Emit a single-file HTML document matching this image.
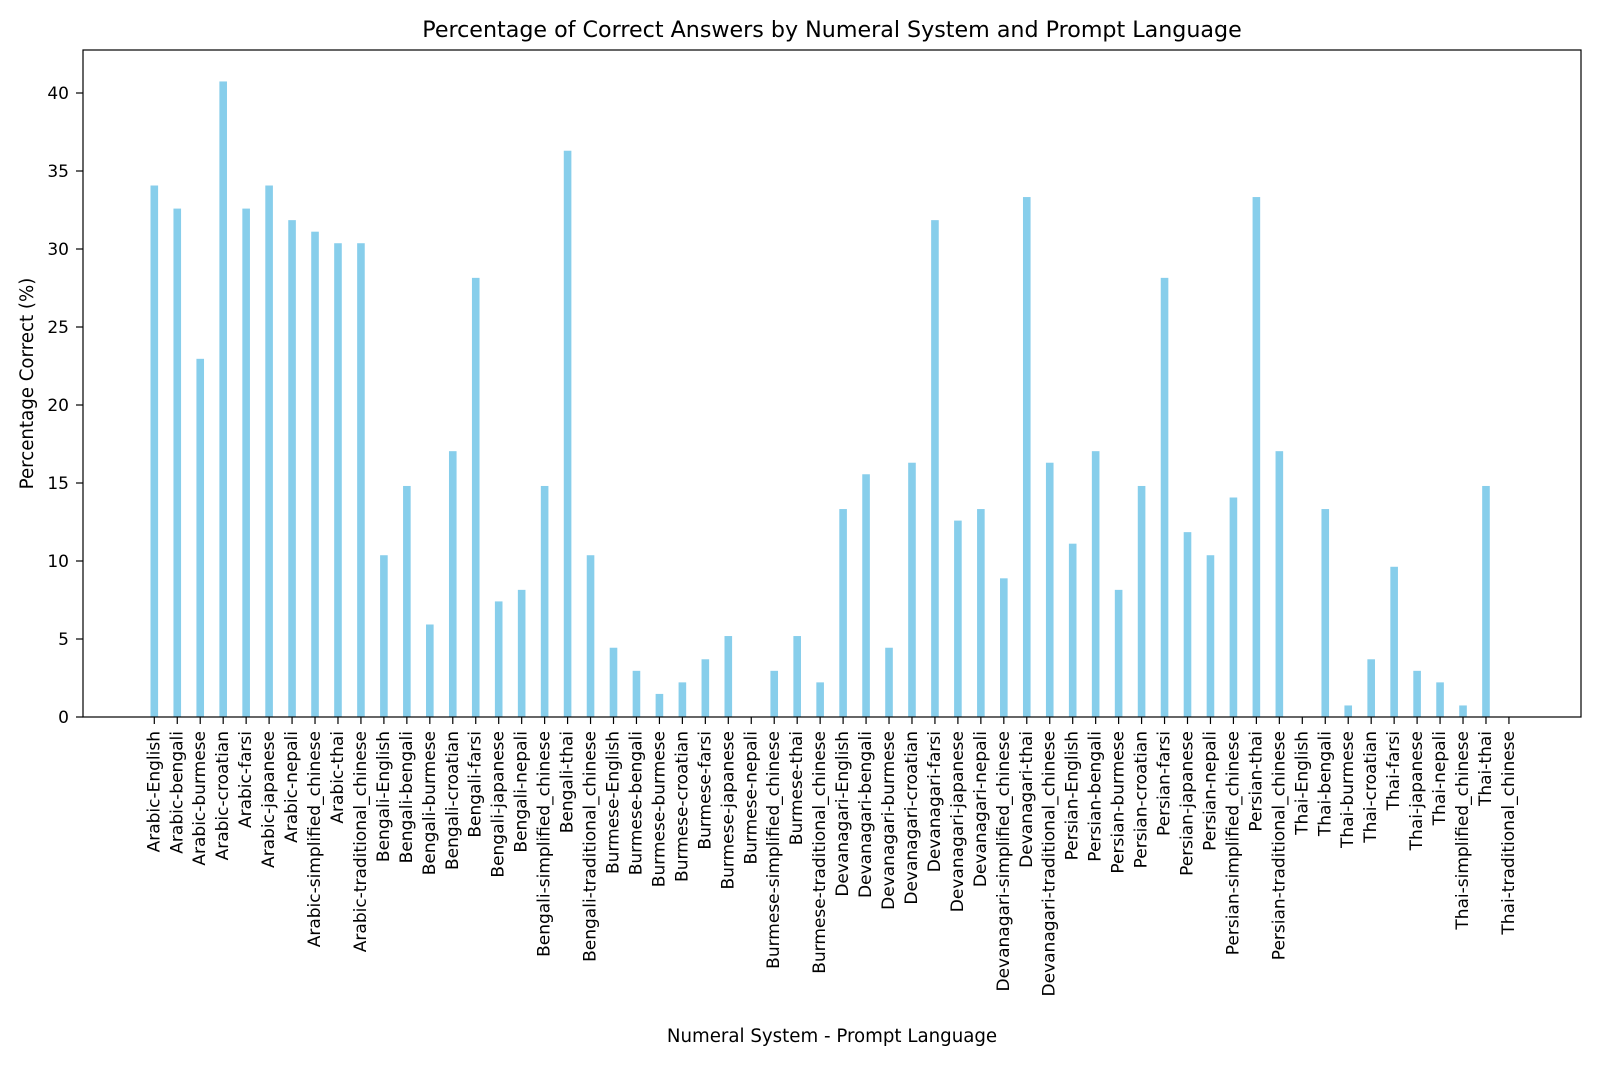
<!DOCTYPE html>
<html><head><meta charset="utf-8"><style>body{margin:0;background:#fff}svg{display:block;font-family:"DejaVu Sans","Liberation Sans",sans-serif}</style></head>
<body>
<svg id="chart" width="1600" height="1066"></svg>
<script>
const numerals=["Arabic","Bengali","Burmese","Devanagari","Persian","Thai"];
const langs=["English","bengali","burmese","croatian","farsi","japanese","nepali","simplified_chinese","thai","traditional_chinese"];
const arabicVals=[34.07,32.59,22.96,40.74,32.59,34.07,31.85,31.11,30.37,30.37];
const bengaliVals=[10.37,14.81,5.93,17.04,28.15,7.41,8.15,14.81,36.30,10.37];
const burmeseVals=[4.44,2.96,1.48,2.22,3.70,5.19,0,2.96,5.19,2.22];
const devanagariVals=[13.33,15.56,4.44,16.30,31.85,12.59,13.33,8.89,33.33,16.30];
const persianVals=[11.11,17.04,8.15,14.81,28.15,11.85,10.37,14.07,33.33,17.04];
const thaiVals=[0,13.33,0.74,3.70,9.63,2.96,2.22,0.74,14.81,0];
const yTicks=[0,5,10,15,20,25,30,35,40];

const allVals=[arabicVals,bengaliVals,burmeseVals,devanagariVals,persianVals,thaiVals];
const cats=[],vals=[];
numerals.forEach((n,i)=>langs.forEach((l,j)=>{cats.push(n+"-"+l);vals.push(allVals[i][j]);}));
const L=83,R=1581,T=50,B=717;
const x=i=>154.3+i*22.96;
const y=v=>B-v*15.6;
const svg=document.getElementById('chart');
const NS="http://www.w3.org/2000/svg";
function mk(tag,attrs,text){const e=document.createElementNS(NS,tag);for(const k in attrs)e.setAttribute(k,attrs[k]);if(text!==undefined)e.textContent=text;svg.appendChild(e);return e;}
vals.forEach((v,i)=>{
 const r=mk('rect',{x:x(i)-3.8,y:y(v),width:7.6,height:B-y(v),fill:'#87ceeb'});
 
 
 mk('line',{x1:x(i),x2:x(i),y1:B,y2:B+7,stroke:'#000','stroke-width':1.2});
 const t=mk('text',{x:0,y:0,'font-size':17,'text-anchor':'end','dominant-baseline':'central',transform:`translate(${x(i)},${B+14}) rotate(-90)`},cats[i]);
 
 
});
yTicks.forEach(v=>{
 mk('line',{x1:L-7,x2:L,y1:y(v),y2:y(v),stroke:'#000','stroke-width':1.2});
 const t=mk('text',{x:L-14,y:y(v)+6,'font-size':17,'text-anchor':'end'},v);
 
 
});
const ax=mk('rect',{x:L,y:T,width:R-L,height:B-T,fill:'none',stroke:'#000','stroke-width':1.2});


const ti=mk('text',{x:(L+R)/2,y:37,'font-size':22.2,'text-anchor':'middle'},'Percentage of Correct Answers by Numeral System and Prompt Language');


const xl=mk('text',{x:(L+R)/2,y:1042,'font-size':18.2,'text-anchor':'middle'},'Numeral System - Prompt Language');


const yl=mk('text',{x:0,y:0,'font-size':18.2,'text-anchor':'middle',transform:`translate(33,${(T+B)/2}) rotate(-90)`},'Percentage Correct (%)');


</script>
</body></html>
